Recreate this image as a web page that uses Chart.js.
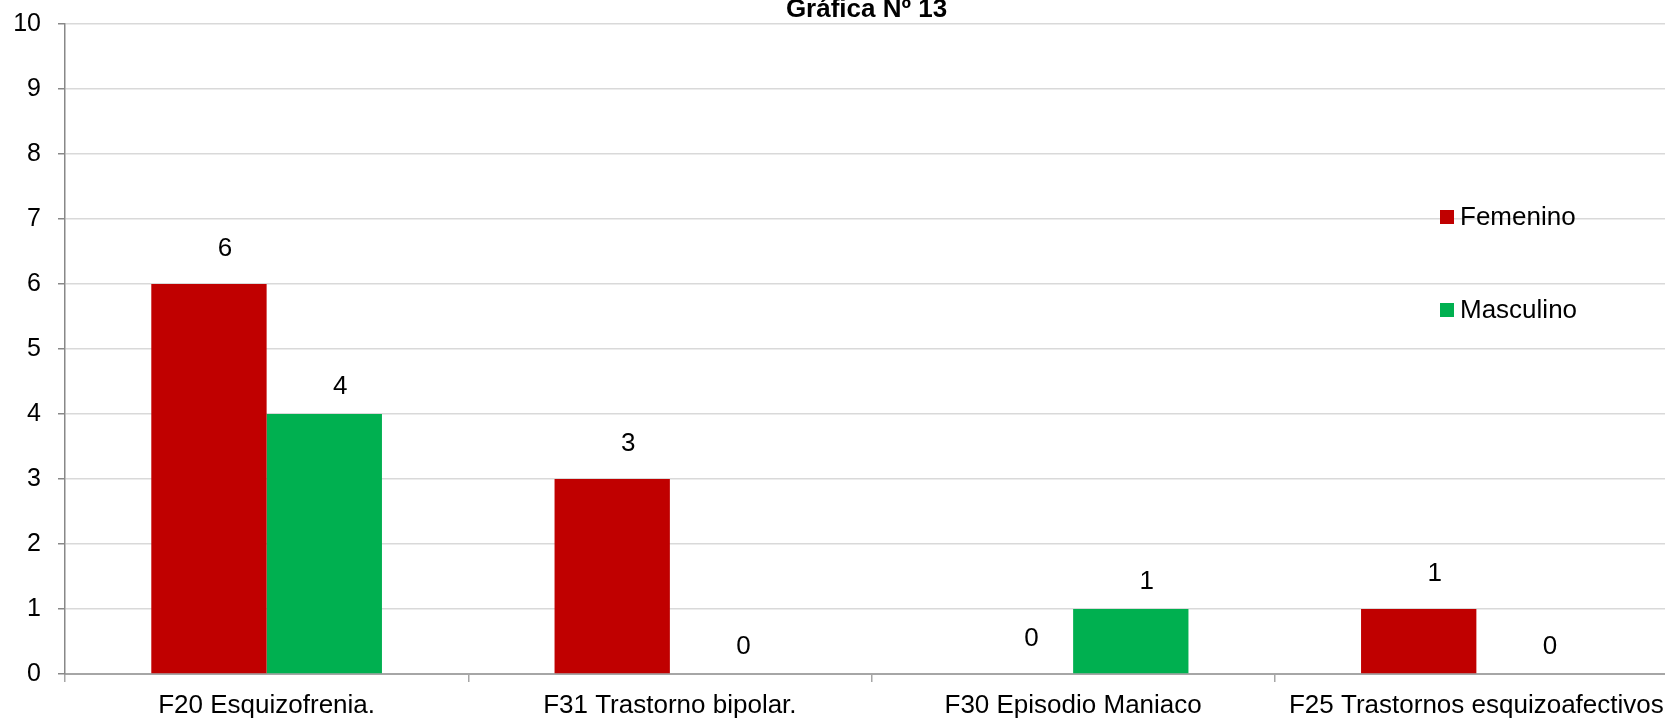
<!DOCTYPE html>
<html lang="es">
<head>
<meta charset="utf-8">
<title>Gráfica Nº 13</title>
<script src="https://cdn.jsdelivr.net/npm/chart.js@4/dist/chart.umd.min.js"></script>
<style>
  html, body { margin: 0; padding: 0; background: #fff; overflow: hidden; }
  #wrap { width: 1680px; height: 721px; }
</style>
</head>
<body>
<div id="wrap"><canvas id="chart" width="1680" height="721"></canvas></div>
<script>
// data
const chartTitle = 'Gráfica Nº 13';
const categories = ['F20 Esquizofrenia.', 'F31 Trastorno bipolar.', 'F30 Episodio Maniaco', 'F25 Trastornos esquizoafectivos'];
const femenino = [6, 3, 0, 1];
const masculino = [4, 0, 1, 0];
const yTicks = [0, 1, 2, 3, 4, 5, 6, 7, 8, 9, 10];

const FONT = "'Liberation Sans', Arial, sans-serif";
const RED = '#C00000';
const GREEN = '#00B050';

// title sits half cut off at the top edge, like the original export
const topTitle = {
  id: 'topTitle',
  afterDraw(chart) {
    const ctx = chart.ctx;
    const a = chart.chartArea;
    ctx.save();
    ctx.font = 'bold 26px ' + FONT;
    ctx.fillStyle = '#000';
    ctx.textAlign = 'center';
    ctx.textBaseline = 'alphabetic';
    ctx.fillText(chartTitle, (a.left + a.right) / 2 - 5, 17);
    ctx.restore();
  }
};

// value labels above each bar (Excel puts them slightly right of centre)
const valueLabels = {
  id: 'valueLabels',
  afterDatasetsDraw(chart) {
    const ctx = chart.ctx;
    const lift = [35, 27];
    ctx.save();
    ctx.font = '26px ' + FONT;
    ctx.fillStyle = '#000';
    ctx.textAlign = 'center';
    ctx.textBaseline = 'middle';
    chart.data.datasets.forEach((ds, i) => {
      chart.getDatasetMeta(i).data.forEach((bar, j) => {
        ctx.fillText(String(ds.data[j]), bar.x + 16, bar.y - lift[i]);
      });
    });
    ctx.restore();
  }
};

// legend drawn inside the plot, on the right
const sideLegend = {
  id: 'sideLegend',
  afterDraw(chart) {
    const ctx = chart.ctx;
    const x = chart.chartArea.right - 238;
    const rows = [217, 310];
    ctx.save();
    ctx.font = '26px ' + FONT;
    ctx.textAlign = 'left';
    ctx.textBaseline = 'middle';
    chart.data.datasets.forEach((ds, i) => {
      const y = rows[i];
      ctx.fillStyle = ds.backgroundColor;
      ctx.fillRect(x, y - 7, 14, 14);
      ctx.fillStyle = '#000';
      ctx.fillText(ds.label, x + 20, y + 1);
    });
    ctx.restore();
  }
};

new Chart(document.getElementById('chart'), {
  type: 'bar',
  data: {
    labels: categories,
    datasets: [
      { label: 'Femenino', data: femenino, backgroundColor: RED },
      { label: 'Masculino', data: masculino, backgroundColor: GREEN }
    ]
  },
  options: {
    responsive: false,
    animation: false,
    layout: { padding: { left: 0, right: 2, top: 24, bottom: 0 } },
    datasets: { bar: { categoryPercentage: 0.572, barPercentage: 1 } },
    plugins: {
      legend: { display: false },
      tooltip: { enabled: false },
      title: { display: false }
    },
    scales: {
      x: {
        afterFit: axis => { axis.height = 47; },
        grid: { drawOnChartArea: false, drawTicks: true, tickLength: 8, color: '#a6a6a6', lineWidth: 1.5, offset: true },
        border: { color: '#a6a6a6', width: 2 },
        ticks: {
          color: '#000', padding: 8, maxRotation: 0, autoSkip: false,
          font: { family: FONT, size: 26 }
        }
      },
      y: {
        min: 0,
        max: 10,
        afterBuildTicks: axis => { axis.ticks = yTicks.map(v => ({ value: v })); },
        afterFit: axis => {
          axis.width = 65;
          axis.paddingTop = 0;
          axis.paddingBottom = 0;
        },
        grid: { color: '#d9d9d9', lineWidth: 1.5, tickLength: 7, tickColor: '#888' },
        border: { color: '#888', width: 1.5 },
        ticks: {
          color: '#000', padding: 17,
          font: { family: FONT, size: 25 }
        }
      }
    }
  },
  plugins: [valueLabels, sideLegend, topTitle]
});
</script>
</body>
</html>
